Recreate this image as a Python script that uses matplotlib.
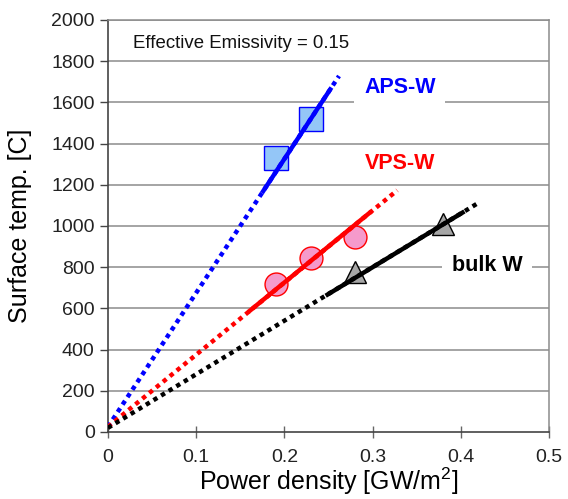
import matplotlib
matplotlib.use('Agg')
import matplotlib.pyplot as plt

plt.rcParams['font.family'] = ['Liberation Sans', 'DejaVu Sans']
plt.rcParams['mathtext.fontset'] = 'custom'
plt.rcParams['mathtext.rm'] = 'Liberation Sans'

# measured points
aps_x = [0.19, 0.23]
aps_y = [1330, 1520]
vps_x = [0.19, 0.23, 0.28]
vps_y = [720, 845, 945]
bulk_x = [0.28, 0.38]
bulk_y = [775, 1010]

# calculated lines (dotted = full range, solid = fitted range)
aps_dot_x = [0, 0.262]
aps_dot_y = [25, 1728]
aps_solid_x = [0.176, 0.252]
aps_solid_y = [1169, 1663]
vps_dot_x = [0, 0.328]
vps_dot_y = [25, 1173]
vps_solid_x = [0.161, 0.297]
vps_solid_y = [589, 1065]
bulk_dot_x = [0, 0.418]
bulk_dot_y = [20, 1107]
bulk_solid_x = [0.249, 0.402]
bulk_solid_y = [667, 1065]

x_ticks = [0, 0.1, 0.2, 0.3, 0.4, 0.5]
x_labels = ['0', '0.1', '0.2', '0.3', '0.4', '0.5']
y_ticks = list(range(0, 2001, 200))

fig = plt.figure(figsize=(5.68, 4.99), dpi=100)
ax = fig.add_axes([0.190, 0.1343, 0.7765, 0.8257])

grid_c = '#8c8c8c'
for y in y_ticks[1:]:
    ax.axhline(y, color=grid_c, lw=1.1, zorder=0)

# markers (under the lines)
ax.plot(aps_x, aps_y, 's', ms=17, mfc='#94c6f7', mec='#0000ff', mew=1.0, zorder=2)
ax.plot(vps_x, vps_y, 'o', ms=16.5, mfc='#f59acb', mec='#ff0000', mew=1.0, zorder=2)
ax.plot(bulk_x, bulk_y, '^', ms=16, mfc='#a6a6a6', mec='#000000', mew=1.0, zorder=2)

dots = (0, (1, 1))
ax.plot(aps_dot_x, aps_dot_y, color='#0000ff', lw=3.2, ls=dots, zorder=3)
ax.plot(aps_solid_x, aps_solid_y, color='#0000ff', lw=3.2, zorder=4)
ax.plot(vps_dot_x, vps_dot_y, color='#ff0000', lw=3.2, ls=dots, zorder=3)
ax.plot(vps_solid_x, vps_solid_y, color='#ff0000', lw=3.2, zorder=4)
ax.plot(bulk_dot_x, bulk_dot_y, color='#000000', lw=3.2, ls=dots, zorder=3)
ax.plot(bulk_solid_x, bulk_solid_y, color='#000000', lw=3.2, zorder=4)

box = dict(facecolor='white', edgecolor='none', pad=7)
ax.text(0.331, 1672, 'APS-W', color='#0000ff', fontsize=15.5, fontweight='bold',
        ha='center', va='center', bbox=box, zorder=1)
ax.text(0.331, 1302, 'VPS-W', color='#ff0000', fontsize=15.5, fontweight='bold',
        ha='center', va='center', zorder=1)
ax.text(0.430, 808, 'bulk W', color='#000000', fontsize=15.5, fontweight='bold',
        ha='center', va='center', bbox=box, zorder=1)
ax.text(0.028, 1888, 'Effective Emissivity = 0.15', fontsize=13.4,
        ha='left', va='center', color='#111111')

ax.set_xlim(0, 0.5)
ax.set_ylim(0, 2000)
ax.set_xticks(x_ticks)
ax.set_xticklabels(x_labels)
ax.set_yticks(y_ticks)
ax.tick_params(axis='both', labelsize=14, colors='#222222')
ax.tick_params(axis='y', direction='out', length=6, width=1, color='#444444')
ax.tick_params(axis='x', direction='inout', length=8, width=1, color='#666666', pad=8)

for side in ['left', 'bottom']:
    ax.spines[side].set_color('#444444')
    ax.spines[side].set_linewidth(1.2)
for side in ['top', 'right']:
    ax.spines[side].set_color(grid_c)
    ax.spines[side].set_linewidth(1.1)

ax.set_xlabel('Power density [GW/m$^{2}$]', fontsize=18, labelpad=0)
ax.set_ylabel('Surface temp. [C]', fontsize=18, labelpad=14)

fig.savefig('out.png', dpi=100)
